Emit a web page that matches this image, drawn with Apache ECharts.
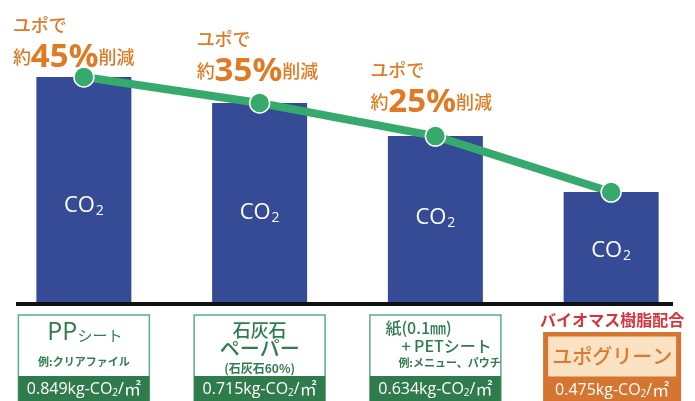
<!DOCTYPE html>
<html>
<head>
<meta charset="utf-8">
<script src="https://cdn.jsdelivr.net/npm/echarts@6/dist/echarts.min.js"></script>
<style>
html,body{margin:0;padding:0;background:#fff;}
#main{width:695px;height:401px;}
</style>
</head>
<body>
<div id="main"></div>
<script>
// ---- data ----
const categories = ['PPシート', '石灰石ペーパー', '紙(0.1㎜)+PETシート', 'ユポグリーン'];
// bar heights as drawn (relative scale 0..1)
const barHeights = [0.849, 0.751, 0.626, 0.415];
// emission values printed under each bar (kg-CO2/㎡)
const emissionValues = ['0.849', '0.715', '0.634', '0.475'];
// reduction annotations for each material vs. ユポ
const reductionPct = ['45%', '35%', '25%', null];
// box texts
const boxLines = [
  [['PP', 'シート'], ['例:クリアファイル']],
  [['石灰石'], ['ペーパー'], ['(石灰石60%)']],
  [['紙(0.1㎜)'], ['+ PETシート'], ['例:メニュー、パウチ']],
  [['ユポグリーン']]
];
const highlightTag = 'バイオマス樹脂配合';

const JP = '"Noto Sans CJK JP", "Noto Sans", sans-serif';
const ORANGE = '#E07A24';
const NAVY = '#364B95';
const GREEN_LINE = '#36AA6C';
const DARK_GREEN = '#2F7B4C';
const TEXT_GREEN = '#2F7D4E';
const BOX_ORANGE = '#D5752F';

const chart = echarts.init(document.getElementById('main'));

// label placement (styling)
const annoOffsets = [[-71, 9], [-63, -3], [-65, -5]];
const co2LabelPos = ['57%', '55%', '49%', '53%'];

const option = {
  animation: false,
  grid: { left: -4, right: -4, top: 37, bottom: 99, outerBoundsMode: 'none', containLabel: false },
  xAxis: {
    type: 'category', data: categories,
    axisLine: { show: false }, axisTick: { show: false }, axisLabel: { show: false }
  },
  yAxis: {
    type: 'value', min: 0, max: 1,
    show: false, splitLine: { show: false }
  },
  series: [
    {
      type: 'bar',
      data: barHeights.map((v, i) => ({
        value: v,
        label: { position: ['50%', co2LabelPos[i]] }
      })),
      barWidth: 95,
      itemStyle: { color: NAVY },
      label: {
        show: true,
        align: 'center', verticalAlign: 'middle',
        formatter: '{c|CO}{s|2}',
        rich: {
          c: { fontSize: 22, color: '#fff', fontFamily: '"Open Sans", sans-serif' },
          s: { fontSize: 14, color: '#fff', fontFamily: '"Open Sans", sans-serif', padding: [11, 0, 0, 1] }
        }
      },
      z: 1
    },
    {
      type: 'line',
      data: barHeights.map((v, i) => {
        const item = { value: v };
        if (reductionPct[i]) {
          item.label = {
            show: true,
            position: 'top',
            distance: 0,
            align: 'left',
            verticalAlign: 'bottom',
            offset: annoOffsets[i],
            formatter: '{s|ユポで}\n{s|約}{b|' + reductionPct[i] + '}{s|削減}',
            rich: {
              s: { fontSize: 18, color: ORANGE, fontFamily: JP, fontWeight: 500, lineHeight: 29 },
              b: { fontSize: 33, color: ORANGE, fontFamily: '"Noto Sans", sans-serif', fontWeight: 'bold', lineHeight: 36 }
            }
          };
        }
        return item;
      }),
      symbol: 'circle',
      symbolSize: 20,
      lineStyle: { color: GREEN_LINE, width: 8 },
      itemStyle: { color: GREEN_LINE, borderColor: '#fff', borderWidth: 1.5 },
      label: { show: false },
      z: 3
    }
  ]
};
chart.setOption(option);

// ---- annotation boxes below the axis, placed at each category's pixel position ----
const graphics = [];
const baseY = chart.convertToPixel({ yAxisIndex: 0 }, 0);
graphics.push({
  type: 'line', shape: { x1: 16, y1: baseY + 2, x2: 673, y2: baseY + 2 },
  style: { stroke: '#111', lineWidth: 4 }, z: 10
});

const NUMF = '"Open Sans", "Noto Sans", sans-serif';
const valueRich = {
  v: { fontSize: 16, fill: '#fff', fontFamily: NUMF },
  m: { fontSize: 17, fill: '#fff', fontFamily: JP },
  s: { fontSize: 10, fill: '#fff', fontFamily: NUMF, padding: [8, 0, 0, 0] }
};
function valueText(i) {
  return '{v|' + emissionValues[i] + 'kg-CO}{s|2}{v|/}{m|㎡}';
}

categories.forEach((c, i) => {
  const cx = chart.convertToPixel({ xAxisIndex: 0 }, i);
  if (i < 3) {
    graphics.push({ type: 'rect', shape: { x: cx - 65.5, y: 315, width: 131, height: 90 },
      style: { fill: '#fff', stroke: '#5AAE84', lineWidth: 1.5 }, z: 10 });
    graphics.push({ type: 'rect', shape: { x: cx - 65.5, y: 376, width: 131, height: 30 },
      style: { fill: DARK_GREEN }, z: 11 });
    graphics.push({ type: 'text', x: cx, y: 389, z: 12,
      style: { text: valueText(i), rich: valueRich, align: 'center', verticalAlign: 'middle' } });
  }
  const L = boxLines[i];
  if (i === 0) {
    graphics.push({ type: 'text', x: cx + 1, y: 333, z: 12,
      style: { text: '{p|' + L[0][0] + '}{k|' + L[0][1] + '}', align: 'center', verticalAlign: 'middle',
        rich: { p: { fontSize: 25, fill: TEXT_GREEN, fontFamily: NUMF },
                k: { fontSize: 15, fill: TEXT_GREEN, fontFamily: JP, padding: [5, 0, 0, 0] } } } });
    graphics.push({ type: 'text', x: cx, y: 362, z: 12,
      style: { text: L[1][0], align: 'center', verticalAlign: 'middle', fontSize: 11, fontWeight: 'bold', fill: TEXT_GREEN, fontFamily: JP } });
  } else if (i === 1) {
    graphics.push({ type: 'text', x: cx, y: 330, z: 12,
      style: { text: L[0][0], align: 'center', verticalAlign: 'middle', fontSize: 18, fill: TEXT_GREEN, fontFamily: JP, fontWeight: 500 } });
    graphics.push({ type: 'text', x: cx, y: 348, z: 12,
      style: { text: L[1][0], align: 'center', verticalAlign: 'middle', fontSize: 20, fill: TEXT_GREEN, fontFamily: JP, fontWeight: 500 } });
    graphics.push({ type: 'text', x: cx, y: 368, z: 12,
      style: { text: L[2][0], align: 'center', verticalAlign: 'middle', fontSize: 12, fill: TEXT_GREEN, fontFamily: JP, fontWeight: 'bold' } });
  } else if (i === 2) {
    graphics.push({ type: 'text', x: cx - 50, y: 328, z: 12,
      style: { text: L[0][0], align: 'left', verticalAlign: 'middle', fontSize: 16, fill: TEXT_GREEN, fontFamily: JP, fontWeight: 500 } });
    graphics.push({ type: 'text', x: cx - 34, y: 346, z: 12,
      style: { text: L[1][0], align: 'left', verticalAlign: 'middle', fontSize: 16, fill: TEXT_GREEN, fontFamily: JP, fontWeight: 500 } });
    graphics.push({ type: 'text', x: cx - 37, y: 363, z: 12,
      style: { text: L[2][0], align: 'left', verticalAlign: 'middle', fontSize: 11, fill: TEXT_GREEN, fontFamily: JP, fontWeight: 'bold' } });
  } else {
    graphics.push({ type: 'text', x: cx + 1, y: 320, z: 12,
      style: { text: highlightTag, align: 'center', verticalAlign: 'middle', fontSize: 16, fill: '#D6343A', fontFamily: JP, fontWeight: 'bold' } });
    graphics.push({ type: 'rect', shape: { x: cx - 68, y: 332, width: 138, height: 75 },
      style: { fill: BOX_ORANGE }, z: 10 });
    graphics.push({ type: 'rect', shape: { x: cx - 63, y: 336.5, width: 128, height: 40 },
      style: { fill: '#FBE2C2' }, z: 11 });
    graphics.push({ type: 'text', x: cx + 1, y: 356, z: 12,
      style: { text: L[0][0], align: 'center', verticalAlign: 'middle', fontSize: 20, fill: '#D97A30', fontFamily: JP, fontWeight: 500 } });
    graphics.push({ type: 'text', x: cx + 1, y: 390, z: 12,
      style: { text: valueText(i), rich: valueRich, align: 'center', verticalAlign: 'middle' } });
  }
});
chart.setOption({ graphic: graphics });
</script>
</body>
</html>
